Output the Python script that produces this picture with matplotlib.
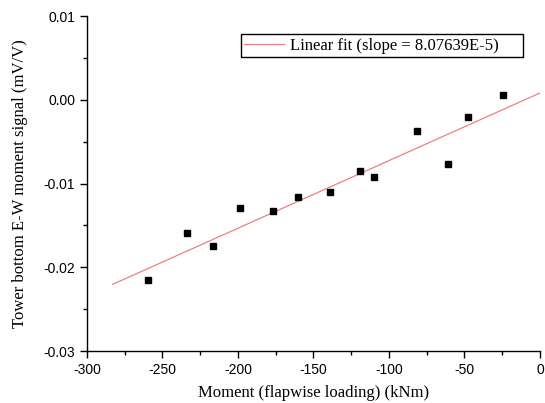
import numpy as np
import matplotlib.pyplot as plt
from matplotlib.ticker import MultipleLocator, FormatStrFormatter

moment = [-259.6, -234.0, -216.4, -198.7, -177.0, -160.3, -139.0,
          -119.2, -110.0, -81.3, -61.0, -47.7, -24.7]
signal = [-0.02155, -0.01591, -0.01742, -0.01296, -0.01325, -0.01164, -0.01101,
          -0.00847, -0.00919, -0.00373, -0.00767, -0.00206, 0.00057]

# linear fit
slope = 8.07639e-5
intercept = 0.00082
fit_x = np.array([-283.0, 0.0])
fit_y = slope * fit_x + intercept

plt.rcParams['font.family'] = ['Liberation Sans', 'DejaVu Sans']
plt.rcParams['axes.unicode_minus'] = False

fig = plt.figure(figsize=(5.45, 4.03), dpi=100)
ax = fig.add_axes([0.1596, 0.129, 0.8312, 0.831])

# trailing spaces give the wide right margin of the original legend box
ax.plot(fit_x, fit_y, color='#f08080', lw=0.9,
        label='Linear fit (slope = 8.07639E-5)     ')
ax.plot(moment, signal, 's', color='black', ms=4.2, label='_nolegend_')

ax.set_xlim(-300, 0)
ax.set_ylim(-0.03, 0.01)
ax.xaxis.set_major_locator(MultipleLocator(50))
ax.xaxis.set_minor_locator(MultipleLocator(25))
ax.yaxis.set_major_locator(MultipleLocator(0.01))
ax.yaxis.set_minor_locator(MultipleLocator(0.005))
ax.yaxis.set_major_formatter(FormatStrFormatter('%.2f'))

for s in ['top', 'right']:
    ax.spines[s].set_visible(False)
for s in ['left', 'bottom']:
    ax.spines[s].set_linewidth(1.0)

ax.tick_params(which='major', direction='out', length=5, width=1, labelsize=10)
ax.tick_params(which='minor', direction='out', length=3, width=1)

serif = ['Liberation Serif', 'DejaVu Serif']
ax.set_xlabel('Moment (flapwise loading) (kNm)', family=serif, fontsize=12, labelpad=6)
ax.set_ylabel('Tower bottom E-W moment signal (mV/V)', family=serif, fontsize=12, labelpad=11)

leg = ax.legend(loc='upper right', bbox_to_anchor=(0.962, 0.946), borderaxespad=0,
                frameon=True, fancybox=False, edgecolor='black', framealpha=1,
                prop={'family': serif, 'size': 12}, handlelength=2.4,
                borderpad=0.2, handletextpad=0.36)
leg.get_frame().set_linewidth(1.0)

plt.savefig('out.png', dpi=100)
plt.close()
